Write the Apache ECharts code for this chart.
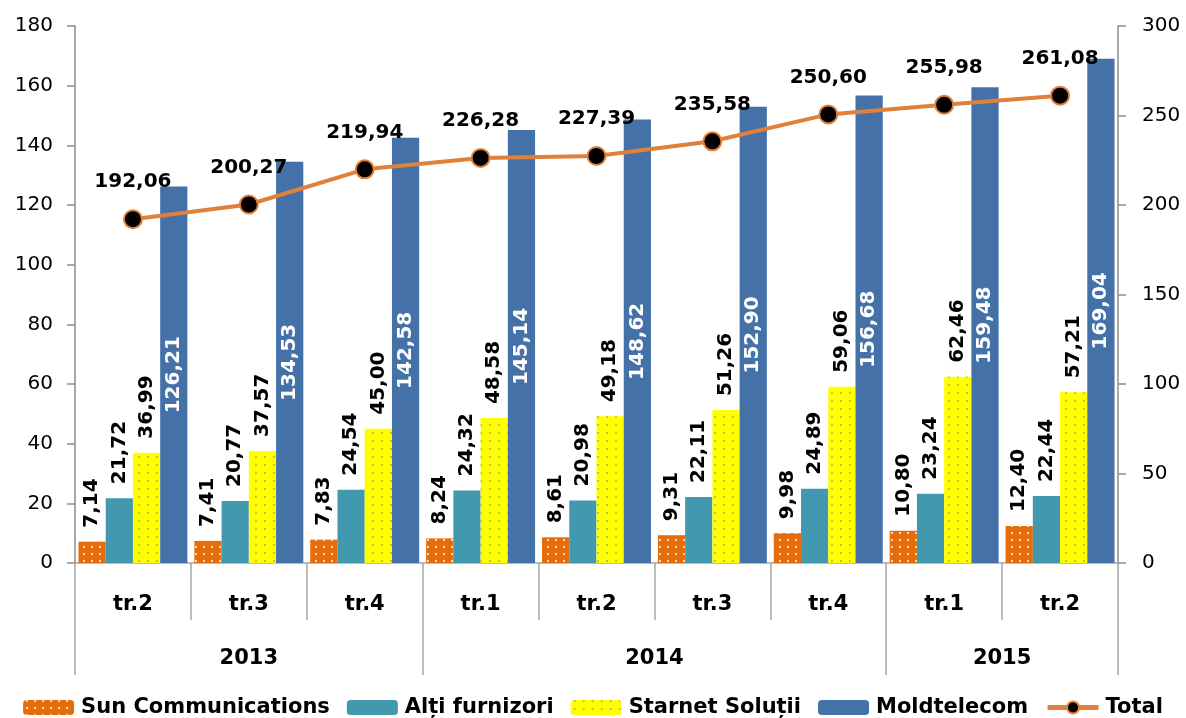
<!DOCTYPE html>
<html>
<head>
<meta charset="utf-8">
<script src="https://cdn.jsdelivr.net/npm/echarts@6/dist/echarts.min.js"></script>
<style>
html,body{margin:0;padding:0;background:#fff;}
#chart{width:1186px;height:718px;}
</style>
</head>
<body>
<div id="chart"></div>
<script>
const quarters = ['tr.2','tr.3','tr.4','tr.1','tr.2','tr.3','tr.4','tr.1','tr.2'];
const years = ['2013','2014','2015'];
const yearCounts = [3,4,2];
const sun = [7.14,7.41,7.83,8.24,8.61,9.31,9.98,10.80,12.40];
const alti = [21.72,20.77,24.54,24.32,20.98,22.11,24.89,23.24,22.44];
const starnet = [36.99,37.57,45.00,48.58,49.18,51.26,59.06,62.46,57.21];
const moldtelecom = [126.21,134.53,142.58,145.14,148.62,152.90,156.68,159.48,169.04];
const total = [192.06,200.27,219.94,226.28,227.39,235.58,250.60,255.98,261.08];
const leftTicks = {min:0,max:180,interval:20};
const rightTicks = {min:0,max:300,interval:50};

const boundaries = [0];
yearCounts.forEach(c => boundaries.push(boundaries[boundaries.length-1] + c));
const yearCenters = yearCounts.map((c,i) => boundaries[i] + c/2);
const yearLabelMap = {};
yearCenters.forEach((v,i) => { yearLabelMap[v] = years[i]; });

const FONT = 'DejaVu Sans';
const fmt = p => p.value.toFixed(2).replace('.', ',');

const rotLabelTop = {
  show:true, position:'top', rotate:90, align:'left', verticalAlign:'middle',
  distance:14, formatter:fmt, color:'#000', fontFamily:FONT, fontWeight:'bold', fontSize:20
};

const chart = echarts.init(document.getElementById('chart'), null, {renderer:'canvas'});
chart.setOption({
  animation:false,
  backgroundColor:'#fff',
  grid:{left:75,right:68,top:26,bottom:155},
  legend:{
    top:692, left:'center', itemWidth:51, itemHeight:15, itemGap:17,
    textStyle:{fontFamily:FONT,fontWeight:'bold',fontSize:21,color:'#000',padding:[0,0,0,2]},
    data:['Sun Communications','Alți furnizori','Starnet Soluții','Moldtelecom',
      {name:'Total', lineStyle:{width:5,color:'#E0803A'}, itemStyle:{color:'#000',borderColor:'#E0803A',borderWidth:2}}]
  },
  xAxis:[
    {
      type:'category', data:quarters, position:'bottom',
      axisLine:{show:true,lineStyle:{color:'#A6A6A6',width:1.5}},
      axisTick:{show:true,interval:0,length:57,lineStyle:{color:'#A6A6A6',width:1.5}},
      axisLabel:{interval:0,margin:31,fontFamily:FONT,fontWeight:'bold',fontSize:21,color:'#000'},
      splitLine:{show:false}
    },
    {
      type:'value', position:'bottom', min:0, max:quarters.length,
      axisLine:{show:false},
      axisTick:{show:true,customValues:boundaries,length:112,lineStyle:{color:'#A6A6A6',width:1.5}},
      axisLabel:{show:true,customValues:yearCenters,margin:85,
        formatter:v => yearLabelMap[v] || '',
        fontFamily:FONT,fontWeight:'bold',fontSize:21,color:'#000'},
      splitLine:{show:false}
    }
  ],
  yAxis:[
    {
      type:'value', min:leftTicks.min, max:leftTicks.max, interval:leftTicks.interval,
      axisLine:{show:true,lineStyle:{color:'#8C8C8C',width:1.5}},
      axisTick:{show:true,length:8,lineStyle:{color:'#8C8C8C',width:1.5}},
      axisLabel:{margin:22,fontFamily:FONT,fontSize:20,color:'#000'},
      splitLine:{show:false}
    },
    {
      type:'value', min:rightTicks.min, max:rightTicks.max, interval:rightTicks.interval,
      position:'right',
      axisLine:{show:true,lineStyle:{color:'#8C8C8C',width:1.5}},
      axisTick:{show:true,length:8,lineStyle:{color:'#8C8C8C',width:1.5}},
      axisLabel:{margin:24,fontFamily:FONT,fontSize:20,color:'#000'},
      splitLine:{show:false}
    }
  ],
  series:[
    {
      name:'Sun Communications', type:'bar', data:sun, xAxisIndex:0, yAxisIndex:0,
      barCategoryGap:'6%', barGap:'0%',
      itemStyle:{color:'#E46C0A',decal:{symbol:'rect',symbolSize:1,color:'rgba(255,255,255,0.75)',dashArrayX:[[0,2.5,1.5,2.5]],dashArrayY:[1.5,5]}},
      label:rotLabelTop
    },
    {
      name:'Alți furnizori', type:'bar', data:alti, xAxisIndex:0, yAxisIndex:0,
      barCategoryGap:'6%', barGap:'0%',
      itemStyle:{color:'#4298AF'},
      label:rotLabelTop
    },
    {
      name:'Starnet Soluții', type:'bar', data:starnet, xAxisIndex:0, yAxisIndex:0,
      barCategoryGap:'6%', barGap:'0%',
      itemStyle:{color:'#FFFF00',decal:{symbol:'rect',symbolSize:1,color:'rgba(150,150,120,0.6)',dashArrayX:[[0,3,1.5,3.5]],dashArrayY:[1.5,5.5]}},
      label:rotLabelTop
    },
    {
      name:'Moldtelecom', type:'bar', data:moldtelecom, xAxisIndex:0, yAxisIndex:0,
      barCategoryGap:'6%', barGap:'0%',
      itemStyle:{color:'#4472A8'},
      label:{show:true, position:'inside', rotate:90, align:'center', verticalAlign:'middle',
        formatter:fmt, color:'#fff', fontFamily:FONT, fontWeight:'bold', fontSize:20}
    },
    {
      name:'Total', type:'line', data:total, xAxisIndex:0, yAxisIndex:1,
      symbol:'circle', symbolSize:18, z:5,
      lineStyle:{color:'#E0803A',width:4},
      itemStyle:{color:'#000',borderColor:'#E0803A',borderWidth:2},
      label:{show:true,position:'top',distance:17,formatter:fmt,color:'#000',
        fontFamily:FONT,fontWeight:'bold',fontSize:20}
    }
  ]
});
</script>
</body>
</html>
